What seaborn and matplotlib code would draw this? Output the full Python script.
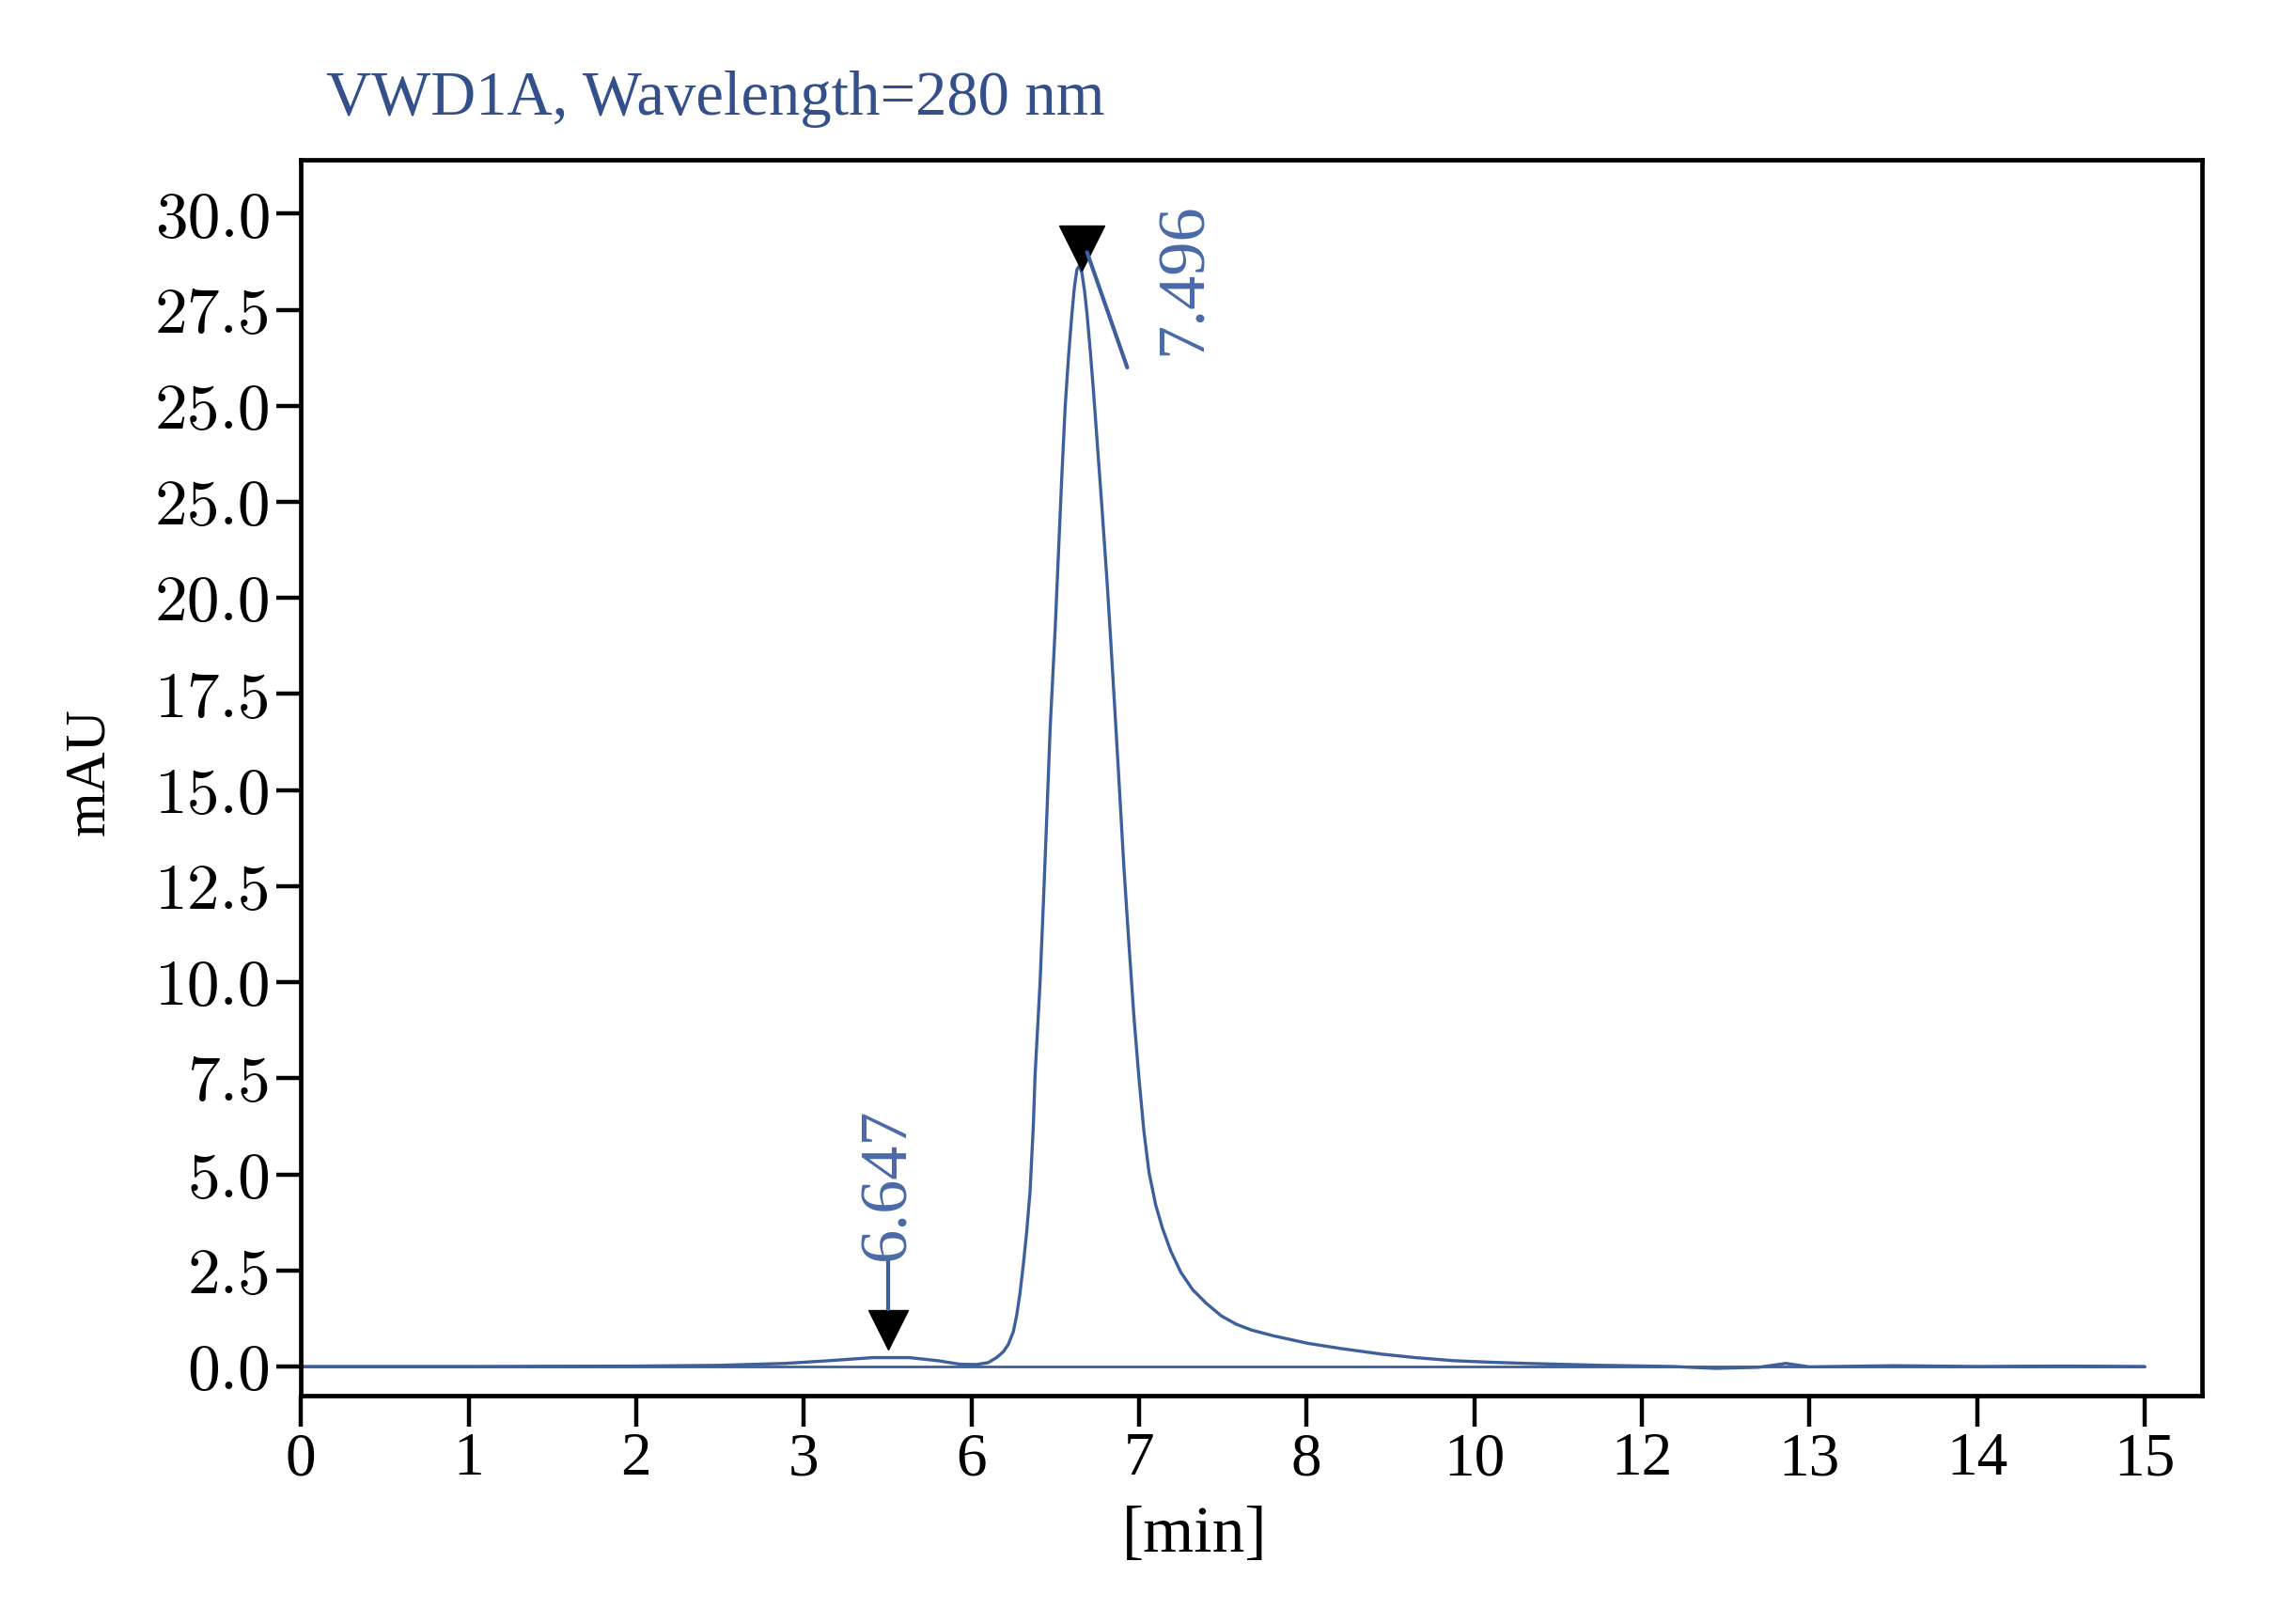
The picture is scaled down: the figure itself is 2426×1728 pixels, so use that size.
import numpy as np
import pandas as pd
import matplotlib
matplotlib.use("Agg")
import matplotlib.pyplot as plt
import seaborn as sns

# axis tick positions (evenly spaced) and the labels printed on them
x_tick_pos = list(range(12))
x_tick_labels = ['0', '1', '2', '3', '6', '7', '8', '10', '12', '13', '14', '15']
y_tick_pos = [0, 2.5, 5, 7.5, 10, 12.5, 15, 17.5, 20, 22.5, 25, 27.5, 30]
y_tick_labels = ['0.0', '2.5', '5.0', '7.5', '10.0', '12.5', '15.0', '17.5',
                 '20.0', '25.0', '25.0', '27.5', '30.0']

# chromatogram trace, x given in axis tick units, y in mAU
trace_x = [0.0, 1.0, 2.0, 2.5, 2.89, 3.15, 3.41, 3.63, 3.80, 3.93, 4.03, 4.10,
           4.15, 4.19, 4.22, 4.25, 4.27, 4.29, 4.31, 4.33, 4.35, 4.37, 4.38,
           4.41, 4.43, 4.45, 4.47, 4.50, 4.52, 4.54, 4.56, 4.58, 4.60, 4.615,
           4.63, 4.645, 4.66, 4.675, 4.69, 4.71, 4.73, 4.75, 4.78, 4.81, 4.83,
           4.86, 4.88, 4.91, 4.94, 4.97, 5.00, 5.03, 5.06, 5.10, 5.14, 5.19,
           5.25, 5.32, 5.40, 5.49, 5.58, 5.67, 5.80, 6.01, 6.20, 6.45, 6.65,
           6.88, 7.10, 7.31, 7.75, 8.18, 8.44, 8.70, 8.86, 9.00, 9.50, 10.0,
           10.5, 11.0]
trace_y = [0.0, 0.0, 0.01, 0.03, 0.08, 0.15, 0.23, 0.23, 0.15, 0.06, 0.05, 0.10,
           0.23, 0.38, 0.57, 0.90, 1.32, 1.90, 2.65, 3.50, 4.54, 6.30, 7.57,
           10.0, 12.1, 14.3, 16.6, 19.2, 21.2, 23.2, 25.0, 26.3, 27.4, 28.1,
           28.55, 28.65, 28.45, 28.0, 27.4, 26.4, 25.3, 24.1, 22.3, 20.4, 19.0,
           16.8, 15.3, 13.0, 11.0, 9.1, 7.5, 6.1, 5.05, 4.2, 3.6, 3.0,
           2.45, 2.0, 1.65, 1.32, 1.10, 0.95, 0.80, 0.60, 0.47, 0.32, 0.23,
           0.15, 0.11, 0.08, 0.03, 0.0, -0.05, -0.02, 0.08, -0.01, 0.02, 0.0,
           0.01, 0.0]

baseline_x = [0.0, 11.0]
baseline_y = [0.0, 0.0]

# peak labels
peak_names = ['7.496', '6.647']
peak_x = [4.66, 3.505]
peak_y = [29.1, 0.95]

trace = pd.DataFrame({'x': trace_x, 'y': trace_y})
base = pd.DataFrame({'x': baseline_x, 'y': baseline_y})

sns.set_theme(style="white")
plt.rcParams['font.family'] = ['Liberation Serif', 'DejaVu Serif']

line_col = '#3d5f9b'
text_col = '#4a6aa8'

fig = plt.figure(figsize=(24.26, 17.28), dpi=100)
ax = fig.add_axes([0.132, 0.1406, 0.8336, 0.7609])

sns.lineplot(data=base, x='x', y='y', ax=ax, color=line_col, linewidth=2.0)
sns.lineplot(data=trace, x='x', y='y', ax=ax, color=line_col, linewidth=2.4)

# peak markers
ax.plot(peak_x[0], peak_y[0], marker='v', markersize=34, color='black', linestyle='none')
ax.plot(peak_x[1], peak_y[1], marker='v', markersize=30, color='black', linestyle='none')

# leader lines
ax.plot([4.69, 4.93], [29.0, 26.0], color=line_col, linewidth=3)
ax.plot([3.505, 3.505], [1.5, 2.75], color=line_col, linewidth=3)

ax.text(5.27, 28.3, peak_names[0], rotation=90, ha='center', va='center',
        fontsize=52, color=text_col, family='Liberation Serif')
ax.text(3.505, 4.75, peak_names[1], rotation=90, ha='center', va='center',
        fontsize=52, color=text_col, family='Liberation Serif')

ax.set_xlim(0, 11.34)
ax.set_ylim(-0.76, 31.4)
ax.set_xticks(x_tick_pos)
ax.set_xticklabels(x_tick_labels, fontsize=47, family='Liberation Serif')
ax.set_yticks(y_tick_pos)
ax.set_yticklabels(y_tick_labels, fontsize=50, family='cmr10')

ax.tick_params(axis='y', direction='out', length=19, width=3.2, pad=4, color='black',
               left=True, labelcolor='black')
ax.tick_params(axis='x', direction='out', length=24, width=3.2, pad=4, color='black',
               bottom=True, labelcolor='black')
for sp in ax.spines.values():
    sp.set_color('black')
    sp.set_linewidth(3.4)

ax.set_xlabel('')
ax.set_ylabel('')
fig.text(0.0395, 0.525, 'mAU', rotation=90, ha='center', va='center', fontsize=44, color='black')
fig.text(0.524, 0.054, '[min]', ha='center', va='center', fontsize=50, color='black')
fig.text(0.143, 0.939, 'VWD1A, Wavelength=280 nm', ha='left', va='center',
         fontsize=48, color='#34508a')

fig.savefig('out.png', dpi=100, facecolor='white')
